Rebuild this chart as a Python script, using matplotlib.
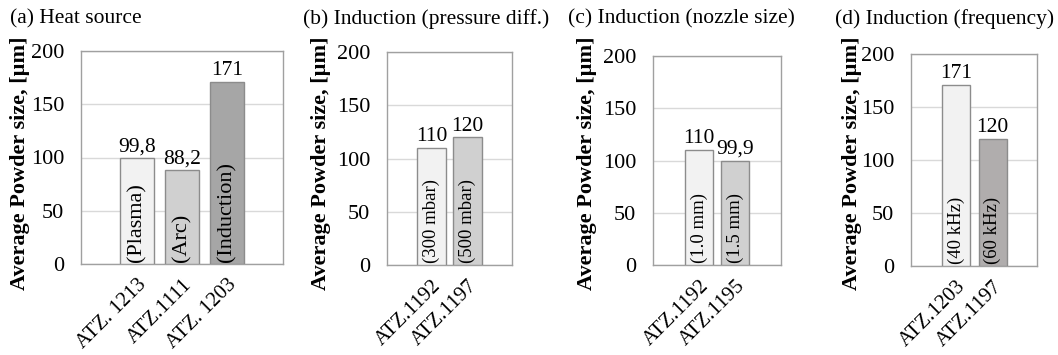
import matplotlib
matplotlib.use("Agg")
import matplotlib.pyplot as plt

plt.rcParams["font.family"] = ["Liberation Serif", "DejaVu Serif"]

W, H = 1058, 355

# ── data ──────────────────────────────────────────────
titles = ["(a) Heat source", "(b) Induction (pressure diff.)",
          "(c) Induction (nozzle size)", "(d) Induction (frequency)"]
cats_a = ["ATZ. 1213", "ATZ.1111", "ATZ. 1203"]
vals_a = [99.8, 88.2, 171]
inner_a = ["(Plasma)", "(Arc)", "(Induction)"]
cats_b = ["ATZ.1192", "ATZ.1197"]
vals_b = [110, 120]
inner_b = ["(300 mbar)", "(500 mbar)"]
cats_c = ["ATZ.1192", "ATZ.1195"]
vals_c = [110, 99.9]
inner_c = ["(1.0 mm)", "(1.5 mm)"]
cats_d = ["ATZ.1203", "ATZ.1197"]
vals_d = [171, 120]
inner_d = ["(40 kHz)", "(60 kHz)"]
yticks = [0, 50, 100, 150, 200]

# ── layout (pixels: left, right, top, bottom) ─────────
panels = [
    dict(cats=cats_a, vals=vals_a, inner=inner_a, box=(81, 283, 51, 264),
         colors=["#f2f2f2", "#d0d0d0", "#a6a6a6"], xlim=(-1.24, 3.24),
         width=0.76, inner_fs=16, title_x=10, ylab_x=20),
    dict(cats=cats_b, vals=vals_b, inner=inner_b, box=(387, 512, 52, 265),
         colors=["#f2f2f2", "#d0d0d0"], xlim=(-1.24, 2.24),
         width=0.79, inner_fs=13.5, title_x=303, ylab_x=321),
    dict(cats=cats_c, vals=vals_c, inner=inner_c, box=(653, 781, 56, 265),
         colors=["#f2f2f2", "#d0d0d0"], xlim=(-1.28, 2.27),
         width=0.79, inner_fs=13.5, title_x=568, ylab_x=587),
    dict(cats=cats_d, vals=vals_d, inner=inner_d, box=(911, 1037, 54, 266),
         colors=["#f2f2f2", "#b0adad"], xlim=(-1.23, 2.21),
         width=0.77, inner_fs=13.5, title_x=835, ylab_x=852),
]

fig = plt.figure(figsize=(W / 100, H / 100), dpi=100)

for p, title in zip(panels, titles):
    l, r, t, b = p["box"]
    ax = fig.add_axes([l / W, (H - b) / H, (r - l) / W, (b - t) / H])
    x = list(range(len(p["vals"])))
    ax.bar(x, p["vals"], width=p["width"], color=p["colors"],
           edgecolor="#8c8c8c", linewidth=1.0, zorder=3)
    for xi, v, lab in zip(x, p["vals"], p["inner"]):
        txt = f"{v:g}".replace(".", ",")
        ax.text(xi, v + 1.5, txt, ha="center", va="bottom", fontsize=15.5, zorder=4)
        ax.text(xi, 2, lab, rotation=90, ha="center", va="bottom",
                fontsize=p["inner_fs"], zorder=4)
    ax.set_xlim(*p["xlim"])
    ax.set_ylim(0, 200)
    ax.set_yticks(yticks)
    ax.set_yticklabels([str(y) for y in yticks], fontsize=16)
    ax.set_xticks(x)
    ax.set_xticklabels(p["cats"], rotation=45, ha="right", rotation_mode="anchor",
                       fontsize=15)
    ax.tick_params(axis="both", length=0)
    ax.tick_params(axis="y", pad=12)
    ax.tick_params(axis="x", pad=8)
    ax.grid(axis="y", color="#d9d9d9", linewidth=1.0, zorder=0)
    for s in ax.spines.values():
        s.set_color("#a0a0a0")
        s.set_linewidth(1.0)
    fig.text(p["title_x"] / W, 1 - 19 / H, title, fontsize=15.5, ha="left", va="center")
    fig.text(p["ylab_x"] / W, 1 - 163 / H, "Average Powder size, [µm]",
             fontsize=16, fontweight="bold", rotation=90, ha="center", va="center")

fig.savefig("out.png", dpi=100)
